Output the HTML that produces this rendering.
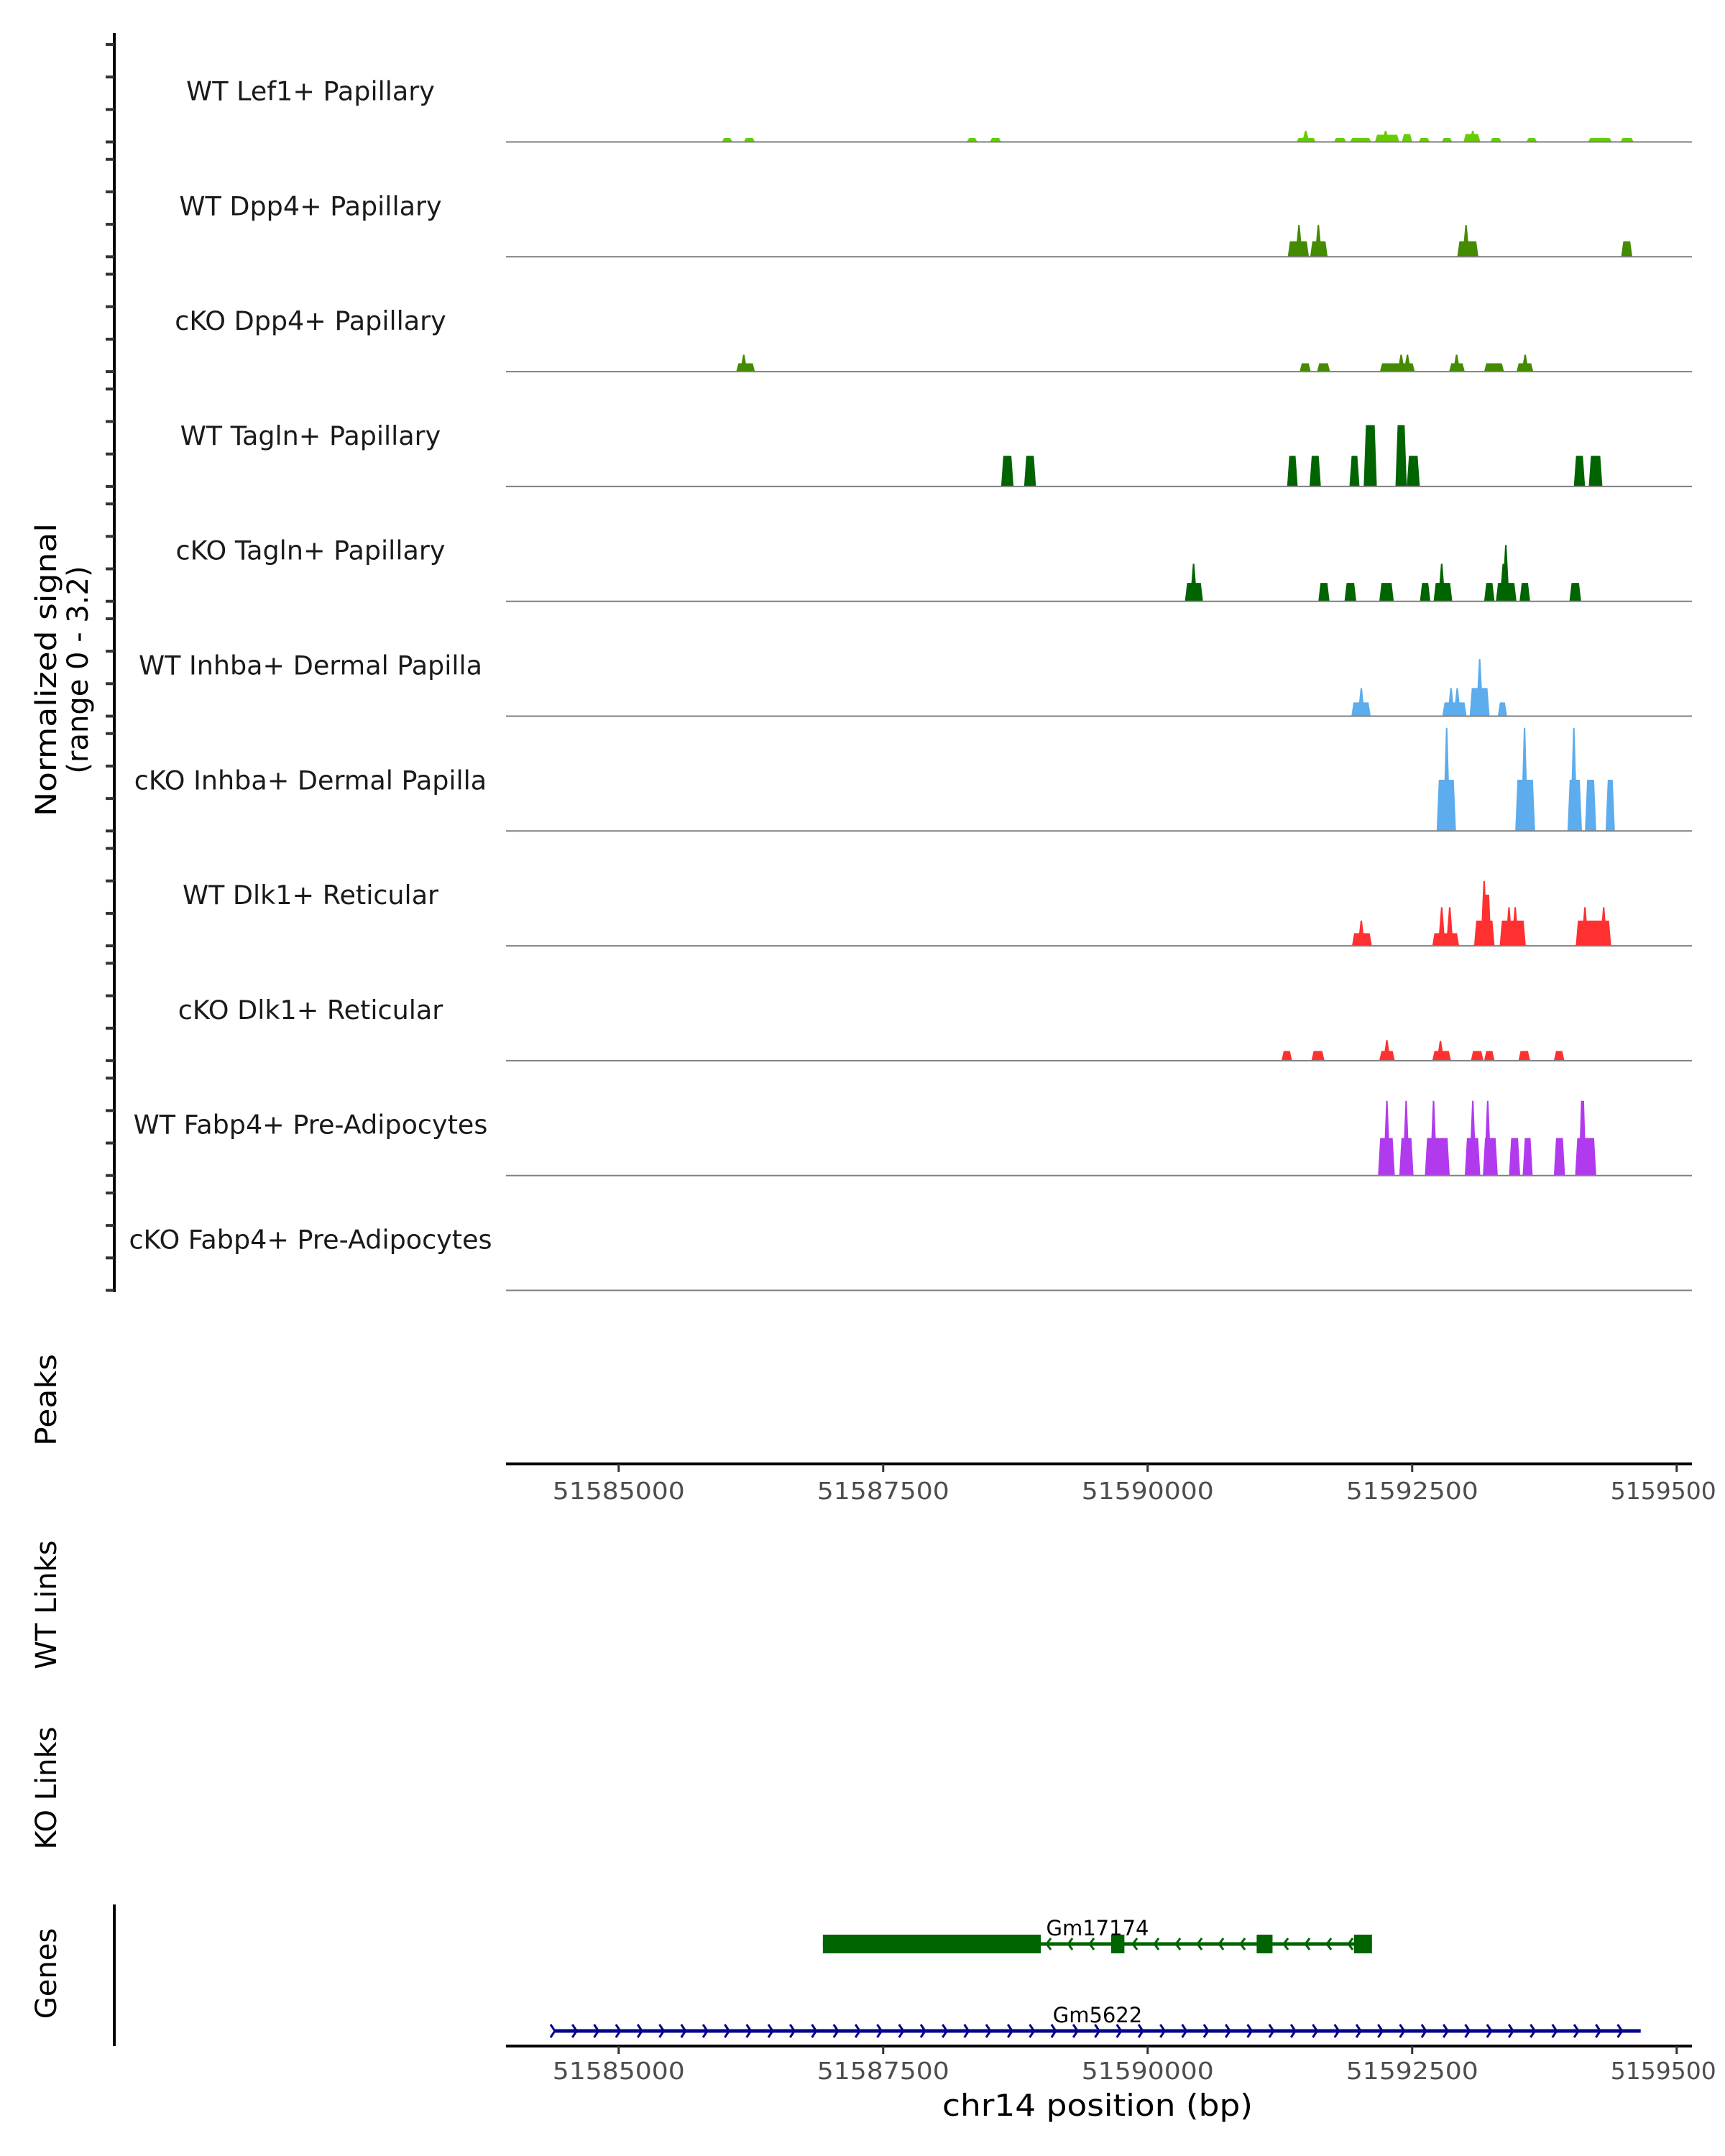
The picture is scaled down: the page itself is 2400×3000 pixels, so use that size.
<!DOCTYPE html>
<html><head><meta charset="utf-8"><style>
html,body{margin:0;padding:0;background:#fff;}
svg{display:block;}
</style></head><body>
<svg id="chart" width="2400" height="3000" viewBox="0 0 2400 3000" xmlns="http://www.w3.org/2000/svg" font-family="'DejaVu Sans','Liberation Sans',sans-serif">
<rect x="0" y="0" width="2400" height="3000" fill="#fff"/>
<g id="tracks"></g>
<line x1="159" y1="46" x2="159" y2="1798" stroke="#000" stroke-width="4"/>
<g id="yticks"></g>
<text transform="translate(78,932) rotate(-90)" text-anchor="middle" font-size="40" fill="#000" textLength="408" lengthAdjust="spacingAndGlyphs">Normalized signal</text>
<text transform="translate(122,932) rotate(-90)" text-anchor="middle" font-size="40" fill="#000">(range 0 - 3.2)</text>
<text transform="translate(78,1948) rotate(-90)" text-anchor="middle" font-size="40" fill="#000" textLength="128" lengthAdjust="spacingAndGlyphs">Peaks</text>
<text transform="translate(78,2233) rotate(-90)" text-anchor="middle" font-size="40" fill="#000">WT Links</text>
<text transform="translate(78,2488) rotate(-90)" text-anchor="middle" font-size="40" fill="#000">KO Links</text>
<text transform="translate(78,2746) rotate(-90)" text-anchor="middle" font-size="40" fill="#000">Genes</text>
<line x1="159" y1="2650" x2="159" y2="2847" stroke="#000" stroke-width="4"/>
<g id="axis1"></g>
<g id="genes"></g>
<g id="axis2"></g>
<text x="1527" y="2944" text-anchor="middle" font-size="42" fill="#000" textLength="432" lengthAdjust="spacingAndGlyphs">chr14 position (bp)</text>
</svg>
<script>
const trackNames = ["WT Lef1+ Papillary","WT Dpp4+ Papillary","cKO Dpp4+ Papillary","WT Tagln+ Papillary","cKO Tagln+ Papillary","WT Inhba+ Dermal Papilla","cKO Inhba+ Dermal Papilla","WT Dlk1+ Reticular","cKO Dlk1+ Reticular","WT Fabp4+ Pre-Adipocytes","cKO Fabp4+ Pre-Adipocytes"];
const trackColors = ["#66CD00","#458B00","#458B00","#006400","#006400","#5CACEE","#5CACEE","#FF3030","#FF3030","#B23AEE","#B23AEE"];
const yTickValues = [0,0.9,1.8,2.7];
const xTicks = [51585000,51587500,51590000,51592500,51595000];
const xTickLabels = ["51585000","51587500","51590000","51592500","5159500"];
const blocksLef1WT = [[51585976,51586075,0.11],[51586182,51586288,0.11],[51588291,51588390,0.11],[51588508,51588615,0.11],[51591407,51591589,0.11],[51591760,51591877,0.11],[51591913,51592113,0.11],[51592148,51592378,0.2],[51592402,51592501,0.22],[51592561,51592666,0.11],[51592779,51592879,0.11],[51592985,51593144,0.22],[51593238,51593344,0.11],[51593580,51593680,0.11],[51594163,51594387,0.11],[51594469,51594593,0.11]];
const spikesLef1WT = [[51591494,0.31],[51592249,0.31],[51593073,0.31]];
const blocksDpp4WT = [[51591324,51591524,0.43],[51591536,51591701,0.43],[51592926,51593126,0.43],[51594475,51594581,0.43]];
const spikesDpp4WT = [[51591430,0.88],[51591613,0.88],[51593009,0.88]];
const blocksDpp4KO = [[51586111,51586288,0.23],[51591436,51591542,0.23],[51591601,51591724,0.23],[51592195,51592525,0.23],[51592849,51592997,0.23],[51593180,51593368,0.23],[51593486,51593645,0.23]];
const spikesDpp4KO = [[51586182,0.47],[51592396,0.47],[51592455,0.47],[51592920,0.47],[51593568,0.47]];
const blocksTaglnWT = [[51588615,51588732,0.85],[51588832,51588944,0.85],[51591318,51591418,0.85],[51591530,51591637,0.85],[51591907,51592002,0.85],[51592042,51592166,1.7],[51592342,51592449,1.7],[51592449,51592572,0.85],[51594028,51594134,0.85],[51594169,51594298,0.85]];
const spikesTaglnWT = [];
const blocksTaglnKO = [[51590352,51590523,0.51],[51591613,51591719,0.51],[51591860,51591972,0.51],[51592189,51592326,0.51],[51592573,51592672,0.51],[51592702,51592879,0.51],[51593180,51593279,0.51],[51593291,51593486,0.51],[51593515,51593615,0.51],[51593986,51594097,0.51]];
const spikesTaglnKO = [[51590434,1.04],[51592779,1.04],[51593385,1.56],[51593361,1.04]];
const blocksInhbaWT = [[51591925,51592108,0.38],[51592785,51593015,0.38],[51593043,51593232,0.78],[51593309,51593397,0.38]];
const spikesInhbaWT = [[51592019,0.78],[51592867,0.78],[51592926,0.78],[51593138,1.58]];
const blocksInhbaKO = [[51592731,51592914,1.42],[51593474,51593662,1.42],[51593968,51594105,1.42],[51594133,51594240,1.42],[51594328,51594416,1.42]];
const spikesInhbaKO = [[51592826,2.86],[51593562,2.86],[51594028,2.86]];
const blocksDlk1WT = [[51591931,51592119,0.35],[51592690,51592944,0.35],[51593085,51593279,0.7],[51593159,51593248,1.42],[51593327,51593574,0.7],[51594046,51594381,0.7]];
const spikesDlk1WT = [[51592019,0.7],[51592779,1.07],[51592855,1.07],[51593180,1.8],[51593415,1.07],[51593474,1.07],[51594133,1.07],[51594310,1.07]];
const blocksDlk1KO = [[51591265,51591365,0.27],[51591548,51591671,0.27],[51592189,51592336,0.27],[51592690,51592867,0.27],[51593055,51593174,0.27],[51593180,51593279,0.27],[51593504,51593615,0.27],[51593839,51593939,0.27]];
const spikesDlk1KO = [[51592261,0.57],[51592767,0.55]];
const blocksFabp4WT = [[51592177,51592336,1.04],[51592378,51592513,1.04],[51592620,51592855,1.04],[51592997,51593144,1.04],[51593168,51593309,1.04],[51593415,51593521,1.04],[51593544,51593639,1.04],[51593839,51593945,1.04],[51594040,51594240,1.04],[51594075,51594145,2.07]];
const spikesFabp4WT = [[51592261,2.07],[51592443,2.07],[51592702,2.07],[51593073,2.07],[51593214,2.07]];
const blocksFabp4KO = [];
const spikesFabp4KO = [];
const geneA_exons = [[51586930,51588990],[51589655,51589780],[51591030,51591180],[51591950,51592120]];
const geneA_span = [51586930,51592120];
const geneB_span = [51584390,51594660];

const allBlocks=[blocksLef1WT,blocksDpp4WT,blocksDpp4KO,blocksTaglnWT,blocksTaglnKO,blocksInhbaWT,blocksInhbaKO,blocksDlk1WT,blocksDlk1KO,blocksFabp4WT,blocksFabp4KO];
const allSpikes=[spikesLef1WT,spikesDpp4WT,spikesDpp4KO,spikesTaglnWT,spikesTaglnKO,spikesInhbaWT,spikesInhbaKO,spikesDlk1WT,spikesDlk1KO,spikesFabp4WT,spikesFabp4KO];

const NS='http://www.w3.org/2000/svg';
const X0=704,X1=2354,BP0=51583935,PXBP=0.1472;
function xs(bp){return X0+(bp-BP0)*PXBP;}
const TRACK_H=159.8,BASE0=197.5,VPX=50.2;
function ys(v,i){return BASE0+i*TRACK_H - v*VPX;}
function mk(tag,attrs,parent){const e=document.createElementNS(NS,tag);for(const k in attrs)e.setAttribute(k,attrs[k]);parent.appendChild(e);return e;}

const tracks=document.getElementById('tracks');
trackNames.forEach((name,i)=>{
  const g=mk('g',{},tracks);
  
  
  const base=ys(0,i);
  const lab=mk('text',{x:432,y:base-58,'text-anchor':'middle','font-size':36.5,fill:'#1a1a1a'},g);
  lab.textContent=name;
  
  
  allBlocks[i].forEach(b=>{
    const x1=xs(b[0]),x2=xs(b[1]),yt=ys(b[2],i);
    const p=mk('polygon',{points:`${x1},${base} ${x1+3},${yt} ${x2-3},${yt} ${x2},${base}`,fill:trackColors[i]},g);
    
    
  });
  allSpikes[i].forEach(s=>{
    const xc=xs(s[0]),yt=ys(s[1],i);
    const p=mk('polygon',{points:`${xc-5},${base} ${xc-1},${yt} ${xc+1},${yt} ${xc+5},${base}`,fill:trackColors[i]},g);
    
    
  });
  const bl=mk('line',{x1:X0,x2:X1,y1:base,y2:base,stroke:'#7f7f7f','stroke-width':2},g);
  
  
});

const yt=document.getElementById('yticks');
for(let i=0;i<11;i++){
  yTickValues.forEach(v=>{
    const y=ys(v,i);
    const t=mk('line',{x1:147,x2:159,y1:y,y2:y,stroke:'#333','stroke-width':4},yt);
    
    
  });
}

function axis(id,y,ly){
  const g=document.getElementById(id);
  const l=mk('line',{x1:X0,x2:X1,y1:y,y2:y,stroke:'#000','stroke-width':4},g);
  
  
  xTicks.forEach((t,k)=>{
    const x=xs(t);
    const tk=mk('line',{x1:x,x2:x,y1:y,y2:y+11,stroke:'#333','stroke-width':3},g);
    
    
    const anchor = x+92>2400 ? 'start':'middle';
    const tx=mk('text',{x:anchor==='start'?x-92:x,y:ly,'text-anchor':anchor,'font-size':33,fill:'#4d4d4d'},g);
    if(anchor==='middle'){tx.setAttribute('textLength',184);tx.setAttribute('lengthAdjust','spacingAndGlyphs');}
    tx.textContent=xTickLabels[k];
    
    
  });
}
axis('axis1',2037,2086);
axis('axis2',2847,2893);

const genes=document.getElementById('genes');
const gA=mk('g',{},genes);


const ya=2705;
mk('line',{x1:xs(geneA_span[0]),x2:xs(geneA_span[1]),y1:ya,y2:ya,stroke:'#006400','stroke-width':5},gA);
for(let x=xs(geneA_exons[0][1])+8;x<xs(geneA_span[1])-10;x+=30){
  mk('polyline',{points:`${x+6},${ya-8} ${x},${ya} ${x+6},${ya+8}`,fill:'none',stroke:'#006400','stroke-width':3},gA);
}
geneA_exons.forEach(e=>{
  const r=mk('rect',{x:xs(e[0]),y:ya-13,width:xs(e[1])-xs(e[0]),height:26,fill:'#006400'},gA);
  
  
});
const la=mk('text',{x:1527,y:2693,'text-anchor':'middle','font-size':29,fill:'#000'},gA);
la.textContent='Gm17174';
const gB=mk('g',{},genes);


const yb=2826;
mk('line',{x1:xs(geneB_span[0]),x2:xs(geneB_span[1]),y1:yb,y2:yb,stroke:'#00008B','stroke-width':5},gB);
for(let x=xs(geneB_span[0]);x<=xs(geneB_span[1])+1;x+=30.3){
  mk('polyline',{points:`${x-5},${yb-9} ${x+1},${yb} ${x-5},${yb+9}`,fill:'none',stroke:'#00008B','stroke-width':3},gB);
}
const lb=mk('text',{x:1527,y:2814,'text-anchor':'middle','font-size':29,fill:'#000'},gB);
lb.textContent='Gm5622';
</script>
</body></html>
